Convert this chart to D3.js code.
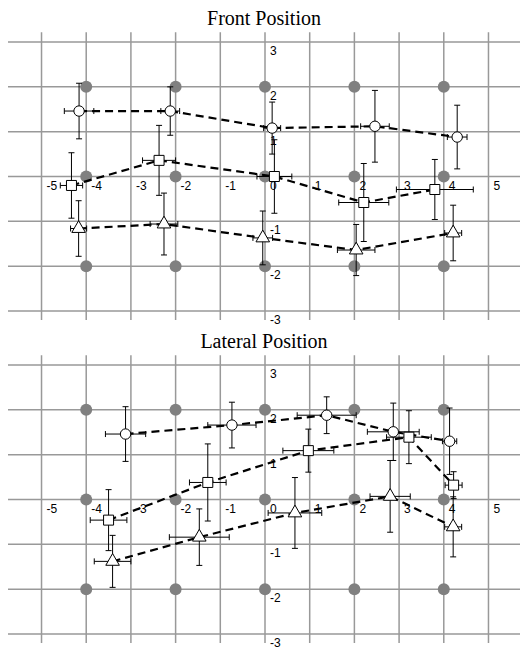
<!DOCTYPE html>
<html>
<head>
<meta charset="utf-8">
<script src="https://cdn.jsdelivr.net/npm/d3@7"></script>
<style>
  body { margin: 0; background: #fff; }
  svg { display: block; }
</style>
</head>
<body>
<div id="chart"></div>
<script>
// tick labels and target positions
var xTicks = [-5, -4, -3, -2, -1, 0, 1, 2, 3, 4, 5];
var yTicks = [-3, -2, -1, 0, 1, 2, 3];
var targetX = [-4, -2, 0, 2, 4];
var targetY = [-2, 0, 2];

// [x, y, xErr, yErr]
var frontCircle = [[-4.16, 1.46, 0.33, 0.62], [-2.12, 1.46, 0.21, 0.54], [0.16, 1.08, 0.19, 0.58], [2.46, 1.12, 0.32, 0.80], [4.30, 0.88, 0.22, 0.71]];
var frontSquare = [[-4.33, -0.20, 0.25, 0.73], [-2.37, 0.36, 0.37, 0.78], [0.21, 0.00, 0.39, 0.82], [2.21, -0.58, 0.56, 0.87], [3.80, -0.29, 0.86, 0.67]];
var frontTriangle = [[-4.17, -1.16, 0.18, 0.62], [-2.26, -1.06, 0.31, 0.69], [-0.05, -1.37, 0.22, 0.60], [2.04, -1.64, 0.42, 0.57], [4.21, -1.26, 0.19, 0.62]];

var latCircle = [[-3.12, 1.46, 0.45, 0.61], [-0.74, 1.66, 0.54, 0.51], [1.38, 1.88, 0.66, 0.41], [2.87, 1.51, 0.58, 0.64], [4.13, 1.30, 0.16, 0.74]];
var latSquare = [[-3.50, -0.46, 0.41, 0.68], [-1.28, 0.38, 0.41, 0.86], [0.97, 1.09, 0.57, 0.48], [3.22, 1.39, 0.50, 0.59], [4.22, 0.32, 0.19, 0.30]];
var latTriangle = [[-3.41, -1.38, 0.41, 0.58], [-1.47, -0.84, 0.67, 0.63], [0.67, -0.30, 0.60, 0.79], [2.80, 0.07, 0.45, 0.80], [4.21, -0.61, 0.19, 0.67]];

var panels = [
  {title: 'Front Position', top: 0, series: [frontCircle, frontSquare, frontTriangle]},
  {title: 'Lateral Position', top: 323, series: [latCircle, latSquare, latTriangle]}
];
var shapes = ['circle', 'square', 'triangle'];

var W = 520, H = 650;
var svg = d3.select('#chart').append('svg').attr('width', W).attr('height', H);

var x = d3.scaleLinear().domain([-5.75, 5.75]).range([8, 522]);
var y = d3.scaleLinear().domain([-3, 3]).range([311, 42]);

var gridColor = '#999';

panels.forEach(function(p){
  var g = svg.append('g').attr('transform', 'translate(0,' + p.top + ')');

  g.append('text')
    .attr('x', 264).attr('y', 25)
    .attr('text-anchor', 'middle')
    .style('font-family', '"Liberation Serif", "Times New Roman", serif')
    .style('font-size', '20px')
    .text(p.title);

  // grid
  g.selectAll('.hline').data(yTicks).enter().append('line')
    .attr('x1', x(-5.75)).attr('x2', x(5.75))
    .attr('y1', function(d){ return y(d); }).attr('y2', function(d){ return y(d); })
    .style('stroke', gridColor).style('stroke-width', 1.5);
  g.selectAll('.vline').data(xTicks).enter().append('line')
    .attr('x1', function(d){ return x(d); }).attr('x2', function(d){ return x(d); })
    .attr('y1', y(3.22)).attr('y2', y(-3.2))
    .style('stroke', gridColor).style('stroke-width', 1.5);

  // target dots
  var targets = [];
  targetX.forEach(function(tx){ targetY.forEach(function(ty){ targets.push([tx, ty]); }); });
  g.selectAll('.dot').data(targets).enter().append('circle')
    .attr('cx', function(d){ return x(d[0]); })
    .attr('cy', function(d){ return y(d[1]); })
    .attr('r', 6)
    .style('fill', '#808080');

  // axis labels
  var font = '"Liberation Sans", Arial, sans-serif';
  g.selectAll('.xl').data(xTicks).enter().append('text')
    .attr('x', function(d){ return x(d) + 5; })
    .attr('y', y(0) + 13)
    .style('font-family', font).style('font-size', '12px')
    .text(function(d){ return d; });
  g.selectAll('.yl').data(yTicks.filter(function(d){ return d !== 0; })).enter().append('text')
    .attr('x', x(0) + 5)
    .attr('y', function(d){ return y(d) + 13; })
    .style('font-family', font).style('font-size', '12px')
    .text(function(d){ return d; });

  // dashed connecting lines
  var line = d3.line().x(function(d){ return x(d[0]); }).y(function(d){ return y(d[1]); });
  p.series.forEach(function(s){
    g.append('path').datum(s).attr('d', line)
      .style('fill', 'none').style('stroke', '#000')
      .style('stroke-width', 2.2).style('stroke-dasharray', '8,5');
  });

  // error bars
  var cap = 3;
  p.series.forEach(function(s){
    var eb = g.append('g').style('stroke', '#000').style('stroke-width', 1);
    s.forEach(function(d){
      var cx = x(d[0]), cy = y(d[1]);
      var x1 = x(d[0] - d[2]), x2 = x(d[0] + d[2]);
      var y1 = y(d[1] + d[3]), y2 = y(d[1] - d[3]);
      eb.append('line').attr('x1', x1).attr('x2', x2).attr('y1', cy).attr('y2', cy);
      eb.append('line').attr('x1', x1).attr('x2', x1).attr('y1', cy - cap).attr('y2', cy + cap);
      eb.append('line').attr('x1', x2).attr('x2', x2).attr('y1', cy - cap).attr('y2', cy + cap);
      eb.append('line').attr('x1', cx).attr('x2', cx).attr('y1', y1).attr('y2', y2);
      eb.append('line').attr('x1', cx - cap).attr('x2', cx + cap).attr('y1', y1).attr('y2', y1);
      eb.append('line').attr('x1', cx - cap).attr('x2', cx + cap).attr('y1', y2).attr('y2', y2);
    });
  });

  // markers
  var sym = {
    circle: d3.symbol().type(d3.symbolCircle).size(85),
    square: d3.symbol().type(d3.symbolSquare).size(100),
    triangle: d3.symbol().type(d3.symbolTriangle).size(80)
  };
  p.series.forEach(function(s, i){
    g.selectAll('.m' + i).data(s).enter().append('path')
      .attr('d', sym[shapes[i]])
      .attr('transform', function(d){ return 'translate(' + x(d[0]) + ',' + y(d[1]) + ')'; })
      .style('fill', '#fff').style('stroke', '#000').style('stroke-width', 1);
  });
});
</script>
</body>
</html>
